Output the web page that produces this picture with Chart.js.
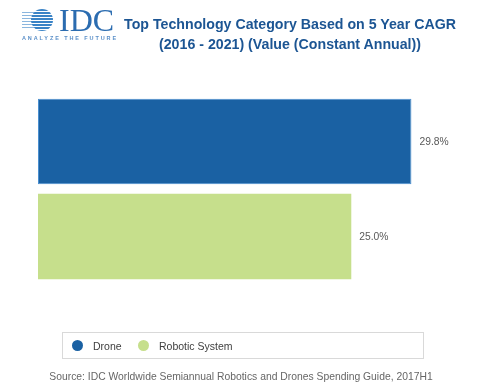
<!DOCTYPE html>
<html>
<head>
<meta charset="utf-8">
<script src="https://cdn.jsdelivr.net/npm/chart.js@4/dist/chart.umd.min.js"></script>
<style>
  html, body { margin: 0; padding: 0; background: #ffffff; }
  #wrap { position: relative; width: 499px; height: 387px; overflow: hidden; background: #fff; font-family: "Liberation Sans", Arial, sans-serif; }
  #chart { position: absolute; left: 0; top: 0; }
  #globe { position: absolute; left: 31px; top: 9px; width: 22px; height: 22px; border-radius: 50%;
    background: repeating-linear-gradient(to bottom, #3a83c6 0px, #3a83c6 2px, #ffffff 2px, #ffffff 3px); }
  #lines { position: absolute; left: 22px; top: 12px; width: 12px; height: 16px;
    background: repeating-linear-gradient(to bottom, #8bb6de 0px, #8bb6de 1px, #ffffff 1px, #ffffff 3px); }
  #idc { position: absolute; left: 59px; top: 2px; font-family: "Liberation Serif", "Times New Roman", serif; font-size: 32px; color: #2b6cb0; line-height: 36px; }
  #tag { position: absolute; left: 22px; top: 35px; font-size: 5.5px; letter-spacing: 1.9px; color: #5a8fc8; font-weight: bold; white-space: nowrap; }
  #title { position: absolute; left: 80px; width: 420px; top: 14px; text-align: center; font-weight: bold; font-size: 14.2px; line-height: 20px; color: #1c5593; white-space: nowrap; }
  #legend { position: absolute; left: 62px; top: 332px; width: 360px; height: 25px; border: 1px solid #d9d9d9; }
  .li { position: absolute; top: 0; height: 25px; line-height: 26px; font-size: 10.5px; color: #404040; white-space: nowrap; }
  .dot { position: absolute; top: 7px; width: 11px; height: 11px; border-radius: 50%; }
  #source { position: absolute; left: 0; width: 482px; top: 371px; text-align: center; font-size: 10.35px; color: #666; white-space: nowrap; }
</style>
</head>
<body>
<div id="wrap">
  <canvas id="chart" width="499" height="387"></canvas>
  <div id="lines"></div>
  <div id="globe"></div>
  <div id="idc">IDC</div>
  <div id="tag">ANALYZE THE FUTURE</div>
  <div id="title">Top Technology Category Based on 5 Year CAGR<br>(2016 - 2021) (Value (Constant Annual))</div>
  <div id="legend"></div>
  <div id="source">Source: IDC Worldwide Semiannual Robotics and Drones Spending Guide, 2017H1</div>
</div>
<script>
const categories = ["Top Technology Category"];
const seriesNames = ["Drone", "Robotic System"];
const droneValues = [29.8];
const roboticValues = [25.0];
const seriesColors = ["#1a61a3", "#c6df8c"];
const seriesBorders = ["#4a8fd0", "#c6df8c"];

const labelPlugin = {
  id: 'valueLabels',
  afterDatasetsDraw(chart) {
    const ctx = chart.ctx;
    ctx.save();
    ctx.font = '10.3px "Liberation Sans", Arial, sans-serif';
    ctx.fillStyle = '#595959';
    ctx.textBaseline = 'middle';
    ctx.textAlign = 'left';
    chart.data.datasets.forEach((ds, di) => {
      const meta = chart.getDatasetMeta(di);
      meta.data.forEach((bar, i) => {
        ctx.fillText(ds.data[i].toFixed(1) + '%', bar.x + 8, bar.y + 1);
      });
    });
    ctx.restore();
  }
};

const chart = new Chart(document.getElementById('chart'), {
  type: 'bar',
  data: {
    labels: categories,
    datasets: [
      { label: seriesNames[0], data: droneValues, backgroundColor: seriesColors[0], borderColor: seriesBorders[0], borderWidth: 1, borderSkipped: false },
      { label: seriesNames[1], data: roboticValues, backgroundColor: seriesColors[1], borderColor: seriesBorders[1], borderWidth: 0 }
    ]
  },
  options: {
    indexAxis: 'y',
    responsive: false,
    animation: false,
    categoryPercentage: 0.95,
    barPercentage: 0.9,
    layout: { padding: { left: 38, right: 60, top: 89, bottom: 98 } },
    scales: {
      x: { display: false, min: 0, max: 32 },
      y: { display: false }
    },
    plugins: {
      legend: { display: false },
      title: { display: false },
      tooltip: { enabled: false }
    }
  },
  plugins: [labelPlugin]
});

// HTML legend built from chart datasets
const legend = document.getElementById('legend');
const positions = [{ dot: 9, text: 30 }, { dot: 75, text: 96 }];
chart.data.datasets.forEach((ds, i) => {
  const dot = document.createElement('div');
  dot.className = 'dot';
  dot.style.left = positions[i].dot + 'px';
  dot.style.background = ds.backgroundColor;
  legend.appendChild(dot);
  const t = document.createElement('div');
  t.className = 'li';
  t.style.left = positions[i].text + 'px';
  t.textContent = ds.label;
  legend.appendChild(t);
});
</script>
</body>
</html>
